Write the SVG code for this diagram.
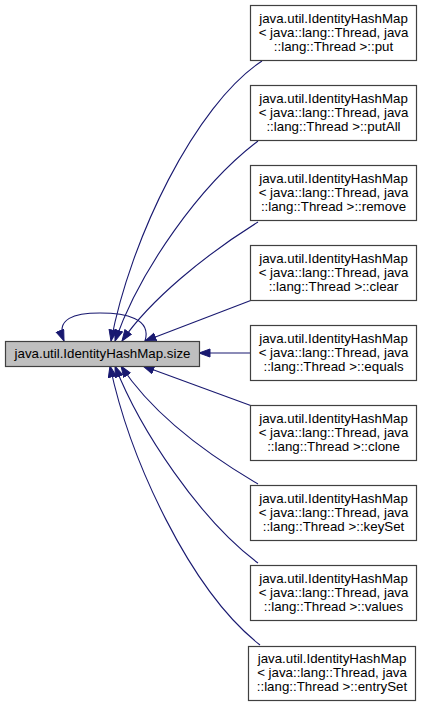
<svg xmlns="http://www.w3.org/2000/svg" width="424" height="707" viewBox="0 0 424 707">
<style>
.box{fill:#ffffff;stroke:#404040;stroke-width:1.2}
.main{fill:#bfbfbf;stroke:#404040;stroke-width:1.2}
.t{font-family:"Liberation Sans",Arial,sans-serif;font-size:13.3px;fill:#000000;text-anchor:middle}
.e{fill:none;stroke:#191970;stroke-width:1.1;marker-end:url(#ah)}
</style>
<defs>
<marker id="ah" markerUnits="userSpaceOnUse" markerWidth="13" markerHeight="10" refX="11.5" refY="4.5" orient="auto">
<path d="M0.5,0.5 L11.5,4.5 L0.5,8.5 z" fill="#191970" stroke="#191970" stroke-width="1"/>
</marker>
</defs>
<rect width="424" height="707" fill="#ffffff"/>
<g id="connectors">
<path class="e" d="M145,341 C152,318 125,313 100,313 C75,313 55,318 64,341"/>
<path class="e" d="M262,61 C195,105 130,240 111,341"/>
<path class="e" d="M258,141 C200,185 140,270 115,341"/>
<path class="e" d="M258,222 C205,255 150,300 122,341"/>
<path class="e" d="M252,300 L145,341"/>
<path class="e" d="M250,353 L199,353"/>
<path class="e" d="M252,406 L143,366"/>
<path class="e" d="M258,484 C200,450 150,410 121,366"/>
<path class="e" d="M258,563 C200,520 140,430 115,366"/>
<path class="e" d="M260,645 C190,590 130,460 110,366"/>
</g>
<g id="node-size">
<rect class="main" x="5.5" y="341.5" width="194" height="25"/>
<text class="t" x="102.5" y="358">java.util.IdentityHashMap.size</text>
</g>
<g id="node-put">
<rect class="box" x="250.5" y="5.5" width="166" height="55"/>
<text class="t" x="333.5" y="22.5">java.util.IdentityHashMap</text>
<text class="t" x="333.5" y="36.5">&lt; java::lang::Thread, java</text>
<text class="t" x="333.5" y="50.5">::lang::Thread &gt;::put</text>
</g>
<g id="node-putAll">
<rect class="box" x="250.5" y="85.5" width="166" height="55"/>
<text class="t" x="333.5" y="102.5">java.util.IdentityHashMap</text>
<text class="t" x="333.5" y="116.5">&lt; java::lang::Thread, java</text>
<text class="t" x="333.5" y="130.5">::lang::Thread &gt;::putAll</text>
</g>
<g id="node-remove">
<rect class="box" x="250.5" y="165.5" width="166" height="55"/>
<text class="t" x="333.5" y="182.5">java.util.IdentityHashMap</text>
<text class="t" x="333.5" y="196.5">&lt; java::lang::Thread, java</text>
<text class="t" x="333.5" y="210.5">::lang::Thread &gt;::remove</text>
</g>
<g id="node-clear">
<rect class="box" x="250.5" y="245.5" width="166" height="55"/>
<text class="t" x="333.5" y="262.5">java.util.IdentityHashMap</text>
<text class="t" x="333.5" y="276.5">&lt; java::lang::Thread, java</text>
<text class="t" x="333.5" y="290.5">::lang::Thread &gt;::clear</text>
</g>
<g id="node-equals">
<rect class="box" x="250.5" y="325.5" width="166" height="55"/>
<text class="t" x="333.5" y="342.5">java.util.IdentityHashMap</text>
<text class="t" x="333.5" y="356.5">&lt; java::lang::Thread, java</text>
<text class="t" x="333.5" y="370.5">::lang::Thread &gt;::equals</text>
</g>
<g id="node-clone">
<rect class="box" x="250.5" y="405.5" width="166" height="55"/>
<text class="t" x="333.5" y="422.5">java.util.IdentityHashMap</text>
<text class="t" x="333.5" y="436.5">&lt; java::lang::Thread, java</text>
<text class="t" x="333.5" y="450.5">::lang::Thread &gt;::clone</text>
</g>
<g id="node-keySet">
<rect class="box" x="250.5" y="485.5" width="166" height="55"/>
<text class="t" x="333.5" y="502.5">java.util.IdentityHashMap</text>
<text class="t" x="333.5" y="516.5">&lt; java::lang::Thread, java</text>
<text class="t" x="333.5" y="530.5">::lang::Thread &gt;::keySet</text>
</g>
<g id="node-values">
<rect class="box" x="250.5" y="565.5" width="166" height="55"/>
<text class="t" x="333.5" y="582.5">java.util.IdentityHashMap</text>
<text class="t" x="333.5" y="596.5">&lt; java::lang::Thread, java</text>
<text class="t" x="333.5" y="610.5">::lang::Thread &gt;::values</text>
</g>
<g id="node-entrySet">
<rect class="box" x="248.5" y="646.5" width="167" height="54"/>
<text class="t" x="332" y="663">java.util.IdentityHashMap</text>
<text class="t" x="332" y="677">&lt; java::lang::Thread, java</text>
<text class="t" x="332" y="691">::lang::Thread &gt;::entrySet</text>
</g>
</svg>
